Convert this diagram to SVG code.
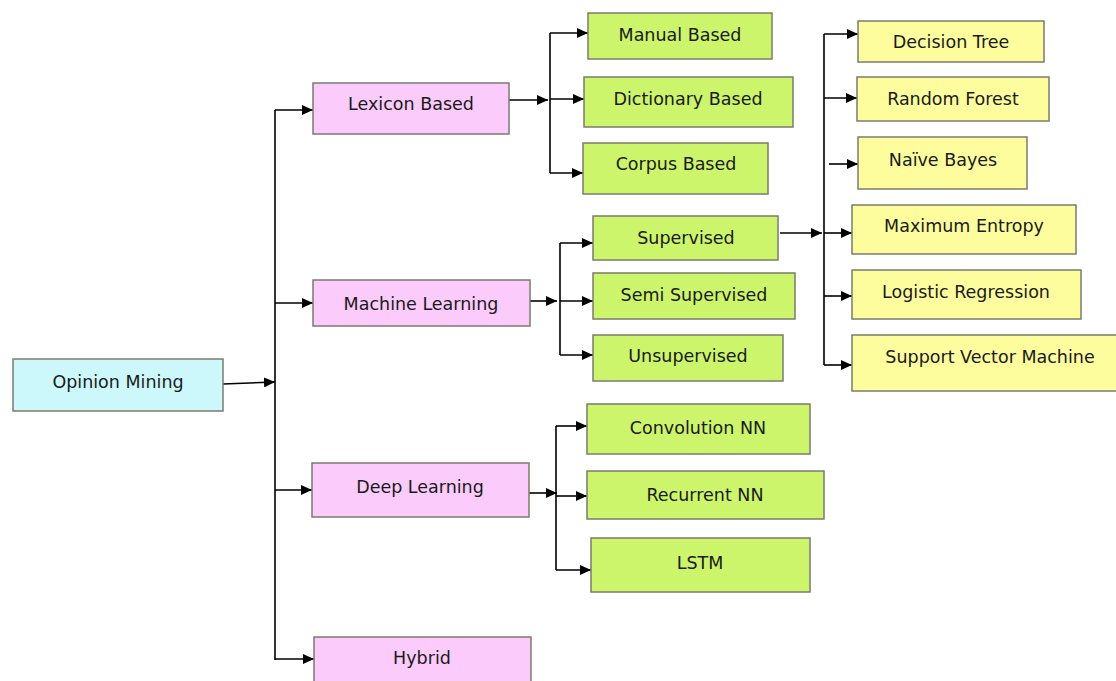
<svg xmlns="http://www.w3.org/2000/svg" width="1116" height="681" viewBox="0 0 1116 681">
<style>
  .box{stroke:#7b7b6e;stroke-width:1.5}
  .c{fill:#ccf8fb}
  .p{fill:#fbcbfb}
  .g{fill:#ccf56b}
  .y{fill:#fdfd9e}
  text{font-family:"DejaVu Sans","Liberation Sans",sans-serif;font-size:17.5px;fill:#1a1a1a;text-anchor:middle}
  .ln{stroke:#000;stroke-width:1.6;fill:none}
</style>
<defs>
  <marker id="ah" markerUnits="userSpaceOnUse" markerWidth="12" markerHeight="10" refX="11" refY="5" orient="auto">
    <path d="M0,0 L11,5 L0,10 Z" fill="#000"/>
  </marker>
</defs>
<rect width="1116" height="681" fill="#fff"/>

<g id="connectors">
  <line class="ln" x1="223" y1="384" x2="275" y2="382" marker-end="url(#ah)"/>
  <line class="ln" x1="275" y1="110" x2="275" y2="660"/>
  <line class="ln" x1="275" y1="110" x2="313" y2="110" marker-end="url(#ah)"/>
  <line class="ln" x1="275" y1="303" x2="313" y2="303" marker-end="url(#ah)"/>
  <line class="ln" x1="275" y1="490" x2="312" y2="490" marker-end="url(#ah)"/>
  <line class="ln" x1="275" y1="659" x2="314" y2="659" marker-end="url(#ah)"/>

  <line class="ln" x1="509" y1="100" x2="548" y2="100" marker-end="url(#ah)"/>
  <line class="ln" x1="550" y1="33" x2="550" y2="173"/>
  <line class="ln" x1="550" y1="33" x2="588" y2="33" marker-end="url(#ah)"/>
  <line class="ln" x1="550" y1="99" x2="584" y2="99" marker-end="url(#ah)"/>
  <line class="ln" x1="550" y1="173" x2="583" y2="173" marker-end="url(#ah)"/>

  <line class="ln" x1="530" y1="301" x2="557" y2="301" marker-end="url(#ah)"/>
  <line class="ln" x1="560" y1="243" x2="560" y2="355"/>
  <line class="ln" x1="560" y1="243" x2="593" y2="243" marker-end="url(#ah)"/>
  <line class="ln" x1="560" y1="301" x2="593" y2="301" marker-end="url(#ah)"/>
  <line class="ln" x1="560" y1="355" x2="593" y2="355" marker-end="url(#ah)"/>

  <line class="ln" x1="529" y1="493" x2="557" y2="493" marker-end="url(#ah)"/>
  <line class="ln" x1="556" y1="426" x2="556" y2="570"/>
  <line class="ln" x1="556" y1="426" x2="587" y2="426" marker-end="url(#ah)"/>
  <line class="ln" x1="556" y1="496" x2="587" y2="496" marker-end="url(#ah)"/>
  <line class="ln" x1="556" y1="570" x2="591" y2="570" marker-end="url(#ah)"/>

  <line class="ln" x1="780" y1="233" x2="822" y2="233" marker-end="url(#ah)"/>
  <line class="ln" x1="824" y1="34" x2="824" y2="365"/>
  <line class="ln" x1="824" y1="34" x2="858" y2="34" marker-end="url(#ah)"/>
  <line class="ln" x1="824" y1="98" x2="857" y2="98" marker-end="url(#ah)"/>
  <line class="ln" x1="829" y1="164" x2="858" y2="164" marker-end="url(#ah)"/>
  <line class="ln" x1="824" y1="233" x2="852" y2="233" marker-end="url(#ah)"/>
  <line class="ln" x1="824" y1="296" x2="852" y2="296" marker-end="url(#ah)"/>
  <line class="ln" x1="824" y1="365" x2="852" y2="365" marker-end="url(#ah)"/>
</g>

<g id="opinion-mining"><rect class="box c" x="13" y="359" width="210" height="52"/><text x="118" y="388">Opinion Mining</text></g>

<g id="lexicon-based"><rect class="box p" x="313" y="83" width="196" height="51"/><text x="411" y="110">Lexicon Based</text></g>
<g id="machine-learning"><rect class="box p" x="313" y="280" width="217" height="46"/><text x="421" y="310">Machine Learning</text></g>
<g id="deep-learning"><rect class="box p" x="312" y="463" width="217" height="54"/><text x="420" y="493">Deep Learning</text></g>
<g id="hybrid"><rect class="box p" x="314" y="637" width="217" height="50"/><text x="422" y="664">Hybrid</text></g>

<g id="manual-based"><rect class="box g" x="588" y="13" width="184" height="46"/><text x="680" y="41">Manual Based</text></g>
<g id="dictionary-based"><rect class="box g" x="584" y="77" width="209" height="50"/><text x="688" y="105">Dictionary Based</text></g>
<g id="corpus-based"><rect class="box g" x="583" y="143" width="185" height="51"/><text x="676" y="170">Corpus Based</text></g>

<g id="supervised"><rect class="box g" x="593" y="216" width="185" height="44"/><text x="686" y="244">Supervised</text></g>
<g id="semi-supervised"><rect class="box g" x="593" y="273" width="202" height="46"/><text x="694" y="301">Semi Supervised</text></g>
<g id="unsupervised"><rect class="box g" x="593" y="335" width="190" height="46"/><text x="688" y="362">Unsupervised</text></g>

<g id="convolution-nn"><rect class="box g" x="587" y="404" width="223" height="50"/><text x="698" y="434">Convolution NN</text></g>
<g id="recurrent-nn"><rect class="box g" x="587" y="471" width="237" height="48"/><text x="705" y="501">Recurrent NN</text></g>
<g id="lstm"><rect class="box g" x="591" y="538" width="219" height="54"/><text x="700" y="569">LSTM</text></g>

<g id="decision-tree"><rect class="box y" x="858" y="21" width="186" height="41"/><text x="951" y="48">Decision Tree</text></g>
<g id="random-forest"><rect class="box y" x="857" y="77" width="192" height="44"/><text x="953" y="105">Random Forest</text></g>
<g id="naive-bayes"><rect class="box y" x="858" y="137" width="169" height="52"/><text x="943" y="166">Naïve Bayes</text></g>
<g id="maximum-entropy"><rect class="box y" x="852" y="205" width="224" height="49"/><text x="964" y="232">Maximum Entropy</text></g>
<g id="logistic-regression"><rect class="box y" x="852" y="270" width="229" height="49"/><text x="966" y="298">Logistic Regression</text></g>
<g id="support-vector-machine"><rect class="box y" x="852" y="335" width="270" height="56"/><text x="990" y="363">Support Vector Machine</text></g>
</svg>
